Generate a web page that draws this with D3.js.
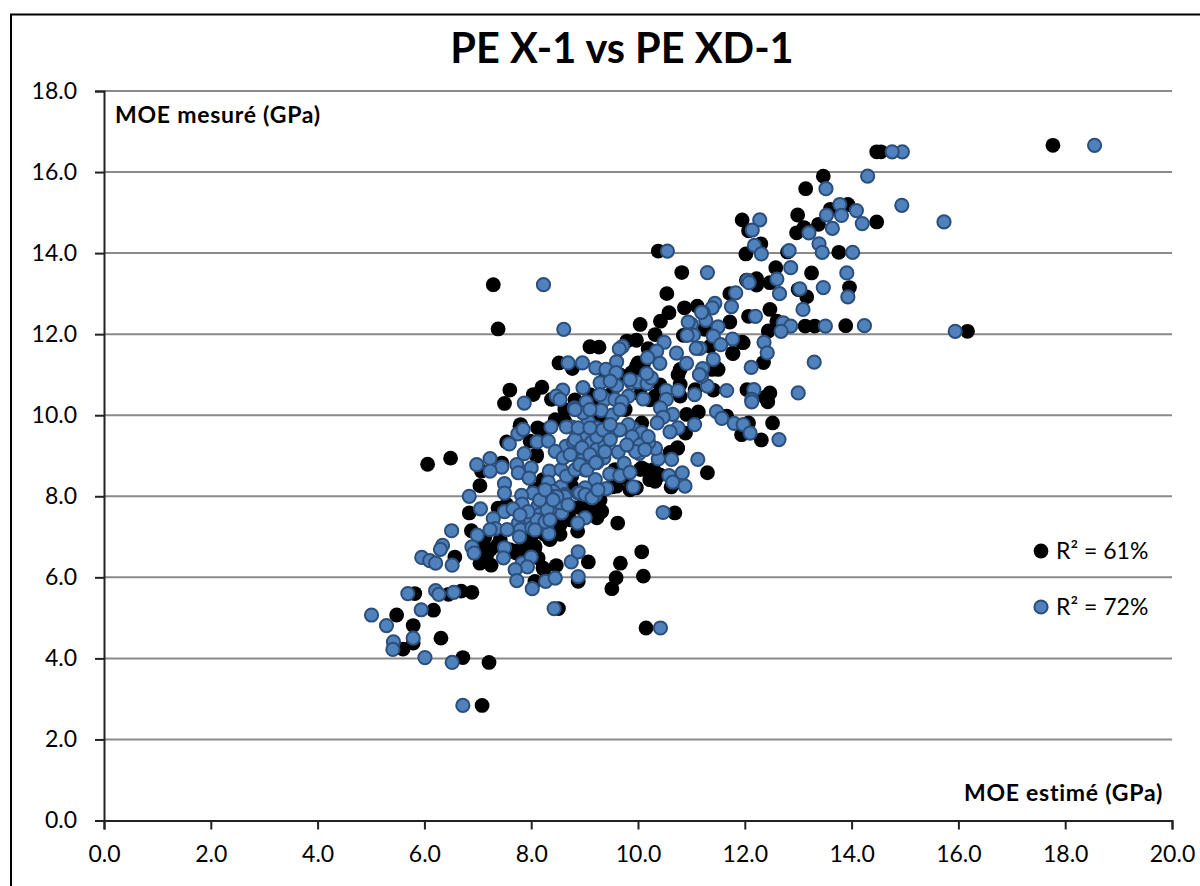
<!DOCTYPE html>
<html><head><meta charset="utf-8">
<script src="https://cdn.jsdelivr.net/npm/d3@7"></script>
<style>html,body{margin:0;padding:0;background:#fff}svg{display:block}text{font-family:Lato,"Open Sans",sans-serif;fill:#000}</style>
</head><body><svg id="c" width="1200" height="886"></svg>
<script>
const chartTitle="PE X-1 vs PE XD-1";
const xLabel="MOE estimé (GPa)";
const yLabel="MOE mesuré (GPa)";
const xTicks=[0,2,4,6,8,10,12,14,16,18,20];
const yTicks=[0,2,4,6,8,10,12,14,16,18];
const legendLabels=["R² = 61%","R² = 72%"];
const blackPoints=[[17.77,16.66],[14.47,16.5],[14.55,16.5],[13.47,15.9],[13.14,15.59],[11.95,14.82],[12.07,14.55],[12.3,14.23],[12.02,13.98],[12.8,14.03],[12.99,14.94],[13.93,15.2],[13.6,15.08],[13.38,14.71],[13.11,14.63],[12.97,14.5],[14.47,14.77],[13.76,14.02],[12.58,13.64],[13.25,13.51],[12.22,13.37],[12.22,13.21],[12.03,13.33],[12.47,13.27],[13.0,13.1],[13.96,13.15],[13.16,12.92],[11.72,13.0],[12.47,12.61],[12.07,12.44],[11.72,12.3],[12.6,12.32],[12.44,12.08],[13.13,12.2],[13.31,12.2],[13.89,12.21],[16.17,12.07],[11.95,11.8],[11.35,11.7],[11.77,11.53],[12.35,11.3],[11.47,11.16],[11.38,11.13],[12.04,10.63],[12.47,10.55],[12.38,10.44],
[7.29,13.22],[7.38,12.13],[10.82,13.52],[10.54,13.0],[10.38,14.05],[10.04,12.24],[10.42,12.32],[10.58,12.53],[10.87,12.65],[11.11,12.69],[10.32,11.99],[9.97,11.85],[9.79,11.83],[9.1,11.69],[9.27,11.68],[10.19,11.64],[11.97,11.79],[11.78,11.52],[10.85,11.97],[10.0,11.29],[9.94,11.09],[8.52,11.29],[8.77,11.15],[10.75,11.0],[10.79,10.76],[8.2,10.69],[8.04,10.51],[7.6,10.62],[7.5,10.29],[8.38,10.39],[11.41,10.62],[12.43,10.33],[10.79,10.47],[11.07,10.63],[10.32,10.47],[10.91,10.02],[11.13,10.08],[11.66,9.98],[12.52,9.81],[11.94,9.52],[12.07,9.81],[12.31,9.39],[10.89,9.56],[10.74,9.18],[10.07,9.81],[10.6,9.08],[7.79,9.73],[8.12,9.69],[8.63,9.85],[7.54,9.34],[7.98,9.36],[8.1,9.03],[7.45,8.82],[7.07,8.62],[8.26,8.41],[8.73,8.45],[9.51,8.23],[9.22,10.43],[10.79,11.13],[10.28,11.46],[9.97,11.21],[7.8,9.77],[8.1,8.99],[10.74,9.2],[10.07,8.7],[9.6,8.25],[9.29,7.63],[8.79,7.72],[8.22,8.41],[11.25,12.12],[11.5,11.13],[10.1,11.25],[9.88,11.05],
[11.3,8.58],[10.32,8.37],[10.62,8.23],[9.97,8.21],[10.13,8.66],[10.29,8.66],[6.06,8.79],[6.49,8.94],[7.04,8.26],[6.84,7.59],[6.88,7.15],[6.57,6.5],[7.04,6.35],[7.25,6.3],[7.07,6.73],[7.16,6.52],[7.37,6.79],[7.72,6.6],[8.07,6.73],[8.13,6.48],[7.91,6.69],[8.47,6.29],[8.24,6.19],[8.07,5.9],[9.07,6.38],[9.67,6.35],[10.07,6.63],[9.59,5.99],[10.1,6.03],[9.51,5.72],[8.88,5.9],[8.51,5.23],[10.15,4.75],[10.69,7.59],[9.62,7.34],[9.23,7.47],[9.31,7.62],[8.87,7.14],[8.54,7.06],[8.34,6.95],[8.06,7.1],[5.82,5.6],[6.69,5.66],[6.89,5.63],[6.45,5.58],[6.17,5.19],[5.48,5.07],[5.79,4.81],[6.31,4.5],[5.79,4.38],[5.6,4.23],[6.72,4.02],[7.21,3.9],[7.08,2.84],[8.07,6.77],[7.72,6.65],[7.1,6.69],[8.22,6.23],[8.45,7.55],[8.97,7.8],[8.35,6.93],[8.48,7.34],[7.54,7.8],[7.38,7.71],[7.13,6.98],[8.41,7.67],[8.91,7.72],[8.07,8.17],[8.76,8.25],[9.32,7.63],[9.07,7.75],[8.76,8.5],
[10.04,8.66],[9.76,8.46],[9.57,8.66],[10.22,8.41],[10.41,8.53],[9.85,8.16],[9.29,7.91],[9.01,7.67],[8.73,7.42],[8.54,7.3],[8.26,7.05],[7.88,6.93],[7.6,6.68],[7.42,6.93],[7.23,6.68],[8.26,9.64],[8.45,9.89],[9.29,9.89],[9.76,10.14],[10.22,10.38],[10.41,10.75],[10.04,10.51],[9.48,10.51],[9.66,11.0],[9.38,10.88],[9.1,10.51],[8.82,10.38],[8.63,10.14]];
const bluePoints=[[18.55,16.66],[14.95,16.5],[14.76,16.5],[14.3,15.9],[14.94,15.18],[15.73,14.77],[13.52,15.59],[13.78,15.2],[14.09,15.05],[13.53,14.94],[13.81,14.93],[14.2,14.73],[13.64,14.61],[13.2,14.5],[12.28,14.82],[12.14,14.57],[12.18,14.19],[12.31,13.98],[12.83,14.06],[13.39,14.23],[13.45,14.02],[14.02,14.02],[12.86,13.64],[13.91,13.51],[11.3,13.52],[12.05,13.33],[12.08,13.27],[12.6,13.36],[11.83,13.02],[12.65,13.0],[13.03,13.12],[13.47,13.15],[13.93,12.92],[11.44,12.76],[11.39,12.65],[11.75,12.68],[13.09,12.61],[11.22,12.53],[11.27,12.34],[12.2,12.44],[11.5,12.18],[12.72,12.28],[12.86,12.2],[12.68,12.07],[13.51,12.2],[14.24,12.21],[15.94,12.07],[11.41,11.95],[11.77,11.88],[11.55,11.74],[12.36,11.8],[11.16,11.65],[12.42,11.54],[11.41,11.38],[13.3,11.31],[12.12,11.18],[11.21,11.15],[11.3,10.72],[11.19,10.96],[11.66,10.61],[12.17,10.63],[13.0,10.55],[12.13,10.39],
[8.23,13.22],[8.61,12.12],[10.55,14.05],[11.0,12.24],[10.94,12.3],[11.19,12.54],[11.04,11.98],[10.92,11.97],[11.09,11.65],[11.15,11.0],[12.13,10.33],[11.06,10.51],[10.53,10.61],[10.75,10.61],[10.49,11.8],[10.35,11.58],[10.18,11.42],[10.72,11.53],[10.91,11.28],[10.41,11.28],[9.71,11.7],[9.65,11.64],[9.6,11.32],[9.21,11.17],[9.4,11.13],[8.96,11.29],[8.69,11.29],[9.59,11.05],[9.29,10.8],[9.6,10.73],[9.88,10.8],[10.0,10.82],[10.17,10.78],[10.25,10.92],[10.16,11.03],[8.97,10.68],[8.59,10.62],[8.47,10.47],[8.54,10.39],[7.87,10.3],[9.03,10.33],[9.38,10.39],[9.57,10.39],[9.82,10.47],[10.1,10.4],[10.53,10.39],[10.42,10.18],[10.65,10.02],[10.47,9.95],[10.36,9.81],[11.06,9.77],[10.75,9.69],[10.6,9.59],[11.47,10.09],[11.57,9.92],[11.8,9.8],[11.97,9.77],[12.1,9.56],[12.64,9.4],[11.12,8.91],[10.63,8.91],[10.38,8.92],[10.33,9.18],[10.0,9.38],[10.02,9.06],[9.91,9.67],[9.82,9.77],[10.07,9.57],[10.2,9.33],[9.54,9.59],[9.52,10.0],[9.31,10.12],[9.07,9.84],[8.97,10.06],[8.81,10.18],[9.22,9.69],[8.76,9.71],[8.66,9.71],[8.37,9.71],[7.75,9.54],[7.85,9.65],[7.59,9.29],[8.11,9.34],[8.32,9.36],[9.0,9.54],[9.13,9.33],[8.65,9.23],[8.45,9.11],[8.79,9.34],[7.87,9.05],[7.23,8.93],[6.98,8.78],[7.45,8.72],[7.23,8.62],[7.73,8.78],[8.0,8.7],[7.76,8.58],[7.96,8.45],[8.34,8.62],[8.56,8.66],[8.6,8.95],[8.88,9.07],[9.22,9.15],[9.38,9.28],[9.63,9.09],[9.88,9.23],[9.36,8.95],[9.1,8.78],[8.97,8.91],[9.74,8.81],[9.47,8.55],[9.66,8.51],[9.85,8.59],[9.2,8.41],[9.91,8.23],[10.58,8.51],[10.65,8.35],[10.83,8.58],[10.88,8.25],[8.32,8.35],[8.56,8.23],[9.07,8.12],[9.41,8.19],[7.5,8.31],[7.5,8.08],[6.84,8.0],[8.03,8.08],[7.82,8.02],[8.63,8.04],[8.88,8.08],[8.41,8.12],[9.01,8.21],[8.35,8.0],[9.48,10.84],[9.7,10.33],[8.82,10.14],[8.66,8.5],[9.2,8.02],
[10.47,7.6],[9.01,7.47],[8.87,7.34],[8.91,8.08],[8.51,7.96],[8.38,8.0],[7.05,7.69],[7.83,7.81],[8.13,7.77],[7.5,7.62],[7.66,7.69],[7.29,7.45],[8.57,7.59],[8.35,7.67],[8.16,7.55],[7.95,7.41],[7.76,7.34],[7.33,7.2],[7.23,7.18],[7.55,7.18],[7.8,7.18],[7.78,7.0],[8.01,7.22],[8.29,7.24],[8.33,7.08],[6.99,7.04],[6.51,7.15],[6.34,6.79],[6.3,6.69],[5.95,6.49],[6.1,6.41],[6.21,6.35],[6.52,6.3],[6.89,6.75],[6.93,6.6],[7.5,6.73],[7.48,6.48],[7.83,6.35],[8.0,6.5],[7.93,6.26],[7.7,6.19],[7.73,5.92],[8.02,5.72],[8.27,5.9],[8.45,5.98],[8.88,6.02],[8.75,6.38],[8.88,6.63],[8.43,5.23],[10.42,4.75],[5.69,5.6],[6.21,5.67],[6.27,5.58],[6.55,5.63],[5.94,5.2],[5.01,5.07],[5.29,4.81],[5.79,4.5],[5.42,4.41],[5.41,4.22],[6.01,4.02],[6.52,3.9],[6.72,2.84],
[8.82,9.4],[8.95,9.2],[9.1,9.03],[9.23,9.47],[9.34,9.64],[8.88,9.69],[9.1,9.69],[9.23,8.83],[8.73,9.03],[9.38,9.1],[9.01,8.65],[8.82,8.65],[8.11,7.42],[7.94,7.62],[8.26,7.37],[7.79,7.54],[8.07,7.17],[8.3,7.67],[8.16,7.91],[8.35,7.42],[8.54,7.84],[8.63,7.99],[8.48,7.99],[8.69,7.79],[9.01,8.04],[9.14,7.96],[9.25,8.16],[8.26,8.16],[8.41,7.91],[9.89,9.47],[10.04,9.27],[10.19,9.47],[9.96,9.1],[9.79,9.27],[10.13,9.15],[8.91,8.78],[9.04,8.65],[9.21,8.83],[9.48,9.4],[9.66,9.64],[9.48,9.77],[9.1,10.14],[9.29,10.51],[9.66,10.14],[9.85,10.88]];

const svg=d3.select("#c");
const x=d3.scaleLinear().domain([0,20]).range([104,1172]);
const y=d3.scaleLinear().domain([0,18]).range([820.5,91]);

// outer frame (open to the right and bottom)
svg.append("path").attr("d","M11,886V14.5H1200").attr("fill","none").attr("stroke","#000").attr("stroke-width",2);

// gridlines
svg.append("g").selectAll("line").data(yTicks.filter(d=>d>0)).join("line")
  .attr("x1",x(0)).attr("x2",x(20)).attr("y1",d=>y(d)).attr("y2",d=>y(d))
  .attr("stroke","#8a8a8a").attr("stroke-width",2);

// axes
const axX=d3.axisBottom(x).tickValues(xTicks).tickFormat(d3.format(".1f")).tickSize(9).tickPadding(16);
const axY=d3.axisLeft(y).tickValues(yTicks).tickFormat(d3.format(".1f")).tickSize(9).tickPadding(18);
const gx=svg.append("g").attr("transform",`translate(0,${y(0)})`).call(axX);
const gy=svg.append("g").attr("transform",`translate(${x(0)},0)`).call(axY);
[gx,gy].forEach(g=>{
  g.selectAll("path").attr("stroke","#222").attr("stroke-width",2);
  g.selectAll("line").attr("stroke","#222").attr("stroke-width",2);
  g.selectAll("text").style("font-family","Lato").style("font-size","23px").attr("fill","#000");
});

// points
svg.append("g").selectAll("circle").data(blackPoints).join("circle")
  .attr("cx",d=>x(d[0])).attr("cy",d=>y(d[1])).attr("r",7.4).attr("fill","#000");
svg.append("g").selectAll("circle").data(bluePoints).join("circle")
  .attr("cx",d=>x(d[0])).attr("cy",d=>y(d[1])).attr("r",6.6)
  .attr("fill","#4f81bd").attr("stroke","#2b4f7a").attr("stroke-width",2);

// title and axis captions
svg.append("text").attr("x",622).attr("y",63).attr("text-anchor","middle")
  .style("font-size","41.5px").style("font-weight",700).text(chartTitle);
svg.append("text").attr("x",115).attr("y",123).style("font-size","23px").style("letter-spacing","0.75px").style("font-weight",700).text(yLabel);
svg.append("text").attr("x",1163).attr("y",801).attr("text-anchor","end").style("font-size","23px").style("letter-spacing","0.75px").style("font-weight",700).text(xLabel);

// legend
const lg=svg.append("g");
lg.append("circle").attr("cx",1041).attr("cy",551).attr("r",7.4).attr("fill","#000");
lg.append("circle").attr("cx",1041).attr("cy",607).attr("r",6.6).attr("fill","#4f81bd").attr("stroke","#2b4f7a").attr("stroke-width",2);
lg.selectAll("text").data(legendLabels).join("text").attr("x",1056).attr("y",(d,i)=>i?615:559)
  .style("font-size","23px").text(d=>d);
</script></body></html>
